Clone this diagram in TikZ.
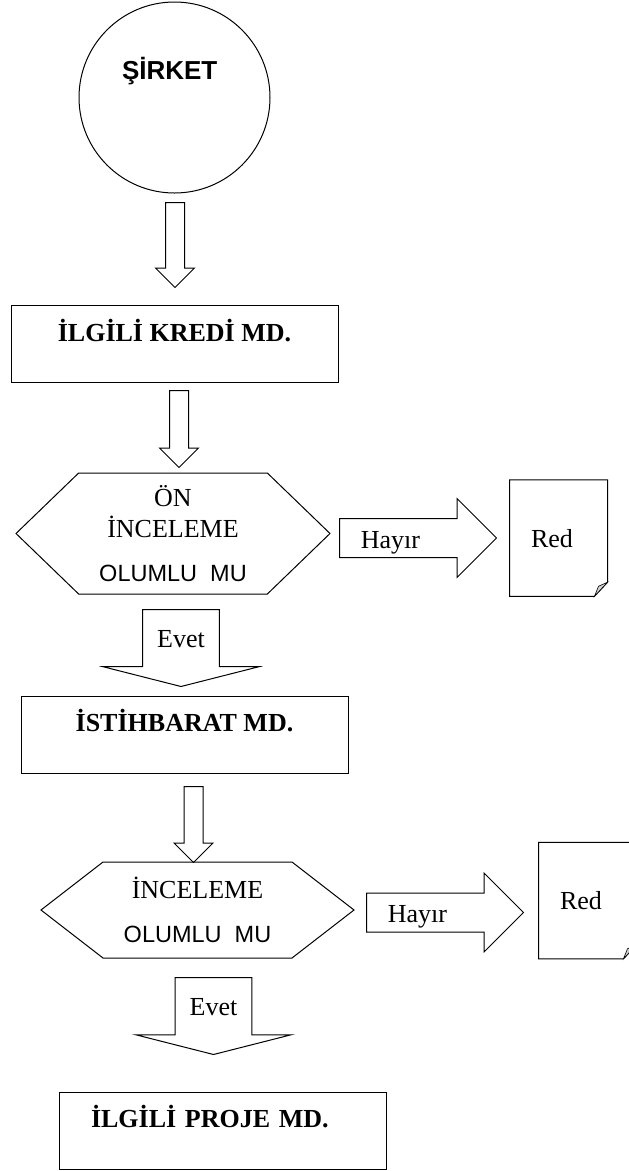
\documentclass[tikz,border=0pt]{standalone}
\usepackage{fontspec}
\setmainfont{Liberation Serif}
\setsansfont{Liberation Sans}
\usetikzlibrary{shapes.arrows,shapes.symbols}

\begin{document}
\begin{tikzpicture}[x=1pt,y=-1pt,line width=1pt,
    every node/.style={inner sep=0pt},
    mdbox/.style={draw,rectangle,minimum width=327pt,minimum height=77pt,
      text height=18pt,text depth=24pt,font=\bfseries\fontsize{26}{31}\selectfont},
    karar/.style={draw,signal,signal to=west and east,align=center,
      font=\fontsize{26}{31}\selectfont},
    belge/.style={rectangle,minimum width=97pt,minimum height=115.5pt,text width=55pt,align=left,
      text height=18pt,text depth=0pt,font=\fontsize{26}{31}\selectfont},
    okdar/.style={draw,single arrow,shape border rotate=270,inner sep=9pt,
      single arrow head extend=10pt,single arrow tip angle=90,anchor=tail},
    okgenis/.style={draw,single arrow,shape border rotate=270,inner xsep=14pt,inner ysep=0pt,
      single arrow head extend=39.5pt,single arrow tip angle=151.5,anchor=tail,
      text height=18pt,text depth=10pt,font=\fontsize{26}{31}\selectfont},
    okyatay/.style={draw,single arrow,inner sep=0pt,text width=95pt,align=left,
      single arrow head extend=20pt,single arrow tip angle=90,anchor=tail,
      text height=29pt,text depth=9pt,font=\fontsize{26}{31}\selectfont}
  ]
  \useasboundingbox (0,0) rectangle (629,1171);

  \node[circle,draw,minimum size=191pt,text width=105pt,align=left,text height=19pt,text depth=56pt,
    font=\sffamily\bfseries\fontsize{26}{31}\selectfont] (sirket) at (174.5,97.5) {ŞİRKET};
  \node[okdar,minimum height=85pt] (ok1) at (175,202) {};

  \node[mdbox] (kredi) at (174.5,344) {İLGİLİ KREDİ MD.};
  \node[okdar,minimum height=77pt] (ok2) at (179,390) {};

  \node[karar,minimum width=314pt,minimum height=121pt,signal pointer angle=88] (on) at (173,533.5)
    {ÖN\\İNCELEME\\[13pt]{\sffamily\fontsize{23.5}{28}\selectfont OLUMLU\ \ MU}};
  \node[okyatay,minimum height=157pt] (hayir1) at (339,538) {Hayır};
  \node[belge] (red1) at (558.5,538) {Red};
  \node[okgenis,minimum height=77pt] (evet1) at (181,609) {Evet};

  \node[mdbox] (istih) at (184.5,734.5) {İSTİHBARAT MD.};
  \node[okdar,minimum height=76pt] (ok3) at (193.5,786) {};

  \node[karar,minimum width=313pt,minimum height=96pt,signal pointer angle=75.5] (inc) at (197.5,910)
    {İNCELEME\\[13pt]{\sffamily\fontsize{23.5}{28}\selectfont OLUMLU\ \ MU}};
  \node[okyatay,minimum height=157pt] (hayir2) at (366,912.5) {Hayır};
  \node[belge] (red2) at (587.5,900.5) {Red};
  \node[okgenis,minimum height=77pt] (evet2) at (213.5,977) {Evet};

  \node[mdbox,text width=263pt,align=left] (proje) at (222.5,1130.5) {İLGİLİ PROJE MD.};

  % kivrik koseli belgeler
  \foreach \d in {red1,red2}{
    \draw (\d.north west) -- (\d.north east) -- ([yshift=14pt]\d.south east)
      -- ([xshift=-13pt]\d.south east) -- (\d.south west) -- cycle;
    \filldraw[fill=gray!35,line width=.6pt] ([yshift=14pt]\d.south east)
      -- ([xshift=-13pt]\d.south east) -- ([xshift=-9pt,yshift=10pt]\d.south east) -- cycle;
  }
\end{tikzpicture}
\end{document}
